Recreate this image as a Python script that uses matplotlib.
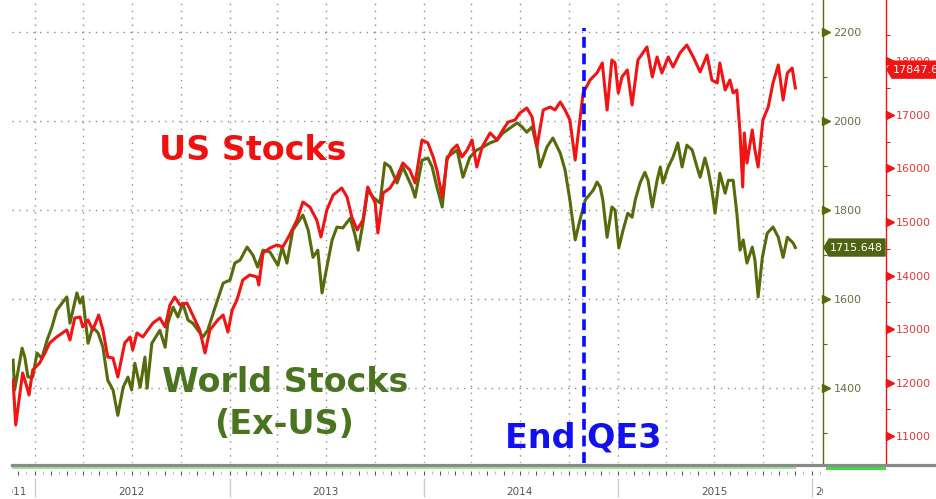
import matplotlib
matplotlib.use("Agg")
import matplotlib.pyplot as plt
import matplotlib.dates as mdates
from matplotlib.patches import Polygon, Rectangle
from matplotlib.lines import Line2D
from matplotlib.transforms import IdentityTransform
import pandas as pd

# US stocks (Dow, right axis)
us_dates = ['2011-11-21', '2011-11-26', '2011-12-09', '2011-12-17', '2011-12-21', '2011-12-28',
            '2012-01-10', '2012-01-20', '2012-01-29', '2012-02-11', '2012-03-01', '2012-03-07',
            '2012-03-16', '2012-03-26', '2012-03-31', '2012-04-10', '2012-04-19', '2012-04-30',
            '2012-05-08', '2012-05-17', '2012-05-27', '2012-06-05', '2012-06-18', '2012-06-28',
            '2012-07-03', '2012-07-11', '2012-07-22', '2012-08-10', '2012-08-23', '2012-09-02',
            '2012-09-11', '2012-09-20', '2012-09-30', '2012-10-13', '2012-10-22', '2012-11-06',
            '2012-11-16', '2012-11-25', '2012-12-10', '2012-12-20', '2012-12-29', '2013-01-06',
            '2013-01-15', '2013-01-26', '2013-02-08', '2013-02-22', '2013-02-25', '2013-03-05',
            '2013-03-18', '2013-03-31', '2013-04-11', '2013-04-21', '2013-05-08', '2013-05-19',
            '2013-06-01', '2013-06-07', '2013-06-14', '2013-06-22', '2013-07-03', '2013-07-15',
            '2013-07-31', '2013-08-10', '2013-08-19', '2013-08-29', '2013-09-09', '2013-09-18',
            '2013-10-02', '2013-10-07', '2013-10-17', '2013-10-30', '2013-11-12', '2013-11-23',
            '2013-12-06', '2013-12-16', '2013-12-29', '2014-01-09', '2014-01-19', '2014-01-26',
            '2014-02-05', '2014-02-14', '2014-02-23', '2014-03-05', '2014-03-14', '2014-03-24',
            '2014-04-02', '2014-04-11', '2014-04-21', '2014-05-06', '2014-05-19', '2014-05-30',
            '2014-06-09', '2014-06-22', '2014-07-01', '2014-07-14', '2014-07-24', '2014-08-02',
            '2014-08-14', '2014-08-27', '2014-09-05', '2014-09-15', '2014-09-24', '2014-10-03',
            '2014-10-13', '2014-10-18', '2014-10-28', '2014-11-10', '2014-11-23', '2014-12-03',
            '2014-12-12', '2014-12-21', '2014-12-27', '2015-01-02', '2015-01-09', '2015-01-19',
            '2015-01-28', '2015-02-08', '2015-02-25', '2015-03-07', '2015-03-16', '2015-03-25',
            '2015-04-06', '2015-04-15', '2015-04-28', '2015-05-11', '2015-05-23', '2015-06-05',
            '2015-06-18', '2015-06-27', '2015-07-07', '2015-07-12', '2015-07-22', '2015-07-31',
            '2015-08-06', '2015-08-13', '2015-08-19', '2015-08-24', '2015-08-27', '2015-09-01',
            '2015-09-11', '2015-09-16', '2015-09-22', '2015-10-01', '2015-10-11', '2015-10-20',
            '2015-10-30', '2015-11-08', '2015-11-16', '2015-11-25', '2015-12-01']
us_vals = [12047, 11206, 12178, 11916, 11767, 12234,
           12365, 12552, 12739, 12851, 12982, 12795,
           13206, 13225, 13038, 13169, 12982, 13262,
           12982, 12477, 12458, 12103, 12739, 12851,
           12608, 12926, 12851, 13112, 13206, 13038,
           13449, 13598, 13449, 13486, 13299, 12982,
           12552, 12982, 13169, 13262, 12944, 13355,
           13542, 13916, 14010, 13972, 13823, 14421,
           14514, 14570, 14533, 14701, 15038, 15374,
           15281, 15168, 15038, 14720, 15224, 15505,
           15636, 15467, 15094, 14851, 15038, 15654,
           15355, 14795, 15542, 15636, 15841, 16103,
           15972, 15729, 16533, 16477, 16215, 15972,
           15467, 16159, 16346, 16439, 16215, 16346,
           16533, 16028, 16402, 16664, 16533, 16720,
           16869, 16907, 17037, 17131, 16963, 16402,
           17093, 17150, 17093, 17243, 17093, 16907,
           16159, 16589, 17411, 17654, 17785, 17972,
           17093, 18028, 17972, 17411, 17710, 17841,
           17187, 18028, 18271, 17710, 18084, 17785,
           18084, 17897, 18159, 18308, 18084, 17804,
           18121, 17654, 17598, 17972, 17467, 17654,
           17411, 17467, 16664, 15654, 16664, 16103,
           16720, 16346, 16028, 16907, 17150, 17598,
           17935, 17280, 17785, 17878, 17505]

# World stocks ex-US (left axis)
world_dates = ['2011-11-21', '2011-11-24', '2011-12-08', '2011-12-13', '2011-12-19', '2011-12-28',
               '2012-01-05', '2012-01-14', '2012-01-24', '2012-02-02', '2012-02-11', '2012-02-21',
               '2012-03-01', '2012-03-07', '2012-03-20', '2012-03-26', '2012-03-31', '2012-04-10',
               '2012-04-19', '2012-04-29', '2012-05-08', '2012-05-17', '2012-05-27', '2012-06-05',
               '2012-06-15', '2012-06-24', '2012-07-01', '2012-07-07', '2012-07-17', '2012-07-26',
               '2012-07-30', '2012-08-08', '2012-08-23', '2012-09-02', '2012-09-07', '2012-09-17',
               '2012-09-26', '2012-10-05', '2012-10-15', '2012-10-24', '2012-11-12', '2012-11-21',
               '2012-12-05', '2012-12-20', '2013-01-02', '2013-01-11', '2013-01-21', '2013-02-03',
               '2013-02-14', '2013-02-23', '2013-03-05', '2013-03-18', '2013-04-02', '2013-04-10',
               '2013-04-19', '2013-04-30', '2013-05-19', '2013-05-29', '2013-06-07', '2013-06-16',
               '2013-06-24', '2013-07-03', '2013-07-13', '2013-07-22', '2013-08-02', '2013-08-16',
               '2013-08-25', '2013-08-31', '2013-09-09', '2013-09-18', '2013-09-28', '2013-10-11',
               '2013-10-20', '2013-10-30', '2013-11-12', '2013-11-23', '2013-12-10', '2013-12-16',
               '2013-12-29', '2014-01-09', '2014-01-17', '2014-01-26', '2014-02-05', '2014-02-14',
               '2014-03-05', '2014-03-16', '2014-03-29', '2014-04-11', '2014-04-23', '2014-05-06',
               '2014-05-19', '2014-05-30', '2014-06-12', '2014-06-26', '2014-07-05', '2014-07-14',
               '2014-07-24', '2014-08-02', '2014-08-08', '2014-08-21', '2014-09-01', '2014-09-15',
               '2014-09-24', '2014-10-03', '2014-10-13', '2014-10-22', '2014-11-01', '2014-11-16',
               '2014-11-23', '2014-11-29', '2014-12-04', '2014-12-12', '2014-12-21', '2014-12-27',
               '2015-01-03', '2015-01-11', '2015-01-20', '2015-01-28', '2015-02-03', '2015-02-12',
               '2015-02-21', '2015-02-27', '2015-03-07', '2015-03-16', '2015-03-22', '2015-03-27',
               '2015-04-06', '2015-04-15', '2015-04-24', '2015-05-02', '2015-05-11', '2015-05-21',
               '2015-05-30', '2015-06-05', '2015-06-14', '2015-06-20', '2015-06-27', '2015-07-03',
               '2015-07-12', '2015-07-22', '2015-07-28', '2015-08-06', '2015-08-13', '2015-08-19',
               '2015-08-25', '2015-09-01', '2015-09-11', '2015-09-16', '2015-09-22', '2015-09-30',
               '2015-10-09', '2015-10-20', '2015-10-30', '2015-11-08', '2015-11-16', '2015-11-27',
               '2015-12-01']
world_vals = [1463, 1396, 1490, 1470, 1425, 1425,
              1479, 1467, 1508, 1537, 1575, 1591,
              1605, 1546, 1614, 1591, 1605, 1501,
              1537, 1524, 1492, 1418, 1396, 1339,
              1402, 1425, 1396, 1456, 1402, 1470,
              1400, 1501, 1530, 1492, 1546, 1582,
              1560, 1591, 1553, 1546, 1515, 1530,
              1582, 1636, 1643, 1681, 1688, 1717,
              1699, 1672, 1710, 1706, 1676, 1717,
              1681, 1755, 1789, 1755, 1694, 1710,
              1614, 1672, 1733, 1762, 1760, 1782,
              1744, 1710, 1771, 1845, 1829, 1816,
              1906, 1897, 1861, 1897, 1852, 1829,
              1912, 1917, 1897, 1852, 1807, 1919,
              1935, 1874, 1919, 1935, 1942, 1951,
              1957, 1973, 1984, 1996, 1987, 1975,
              1987, 1942, 1897, 1942, 1962, 1928,
              1890, 1823, 1733, 1778, 1823, 1845,
              1863, 1852, 1823, 1739, 1807, 1800,
              1715, 1755, 1793, 1784, 1823, 1861,
              1885, 1867, 1807, 1867, 1897, 1861,
              1897, 1919, 1951, 1897, 1946, 1935,
              1897, 1874, 1917, 1890, 1845, 1793,
              1883, 1838, 1867, 1867, 1793, 1710,
              1733, 1681, 1717, 1688, 1605, 1694,
              1748, 1762, 1739, 1694, 1739, 1726,
              1716]

qe3_end = '2014-10-29'
us_last_label = '17847.6'
world_last_label = '1715.648'
world_ticks = [1400, 1600, 1800, 2000, 2200]
world_minor = [1300, 1500, 1700, 1900, 2100]
us_ticks = [11000, 12000, 13000, 14000, 15000, 16000, 17000, 18000]
us_minor = [11500, 12500, 13500, 14500, 15500, 16500, 17500, 18500]
year_labels = ['2011', '2012', '2013', '2014', '2015', '2016']

RED = '#f01414'
OLIVE = '#566b0c'
OLIVE_TXT = '#6d6d48'
RED_TXT = '#e23a3a'

W, H = 936, 499
fig = plt.figure(figsize=(W / 100, H / 100), dpi=100)
fig.patch.set_facecolor('white')

ax = fig.add_axes([12 / W, 1 - 463 / H, 811 / W, 463 / H])
ax2 = ax.twinx()

wd = pd.to_datetime(world_dates)
ud = pd.to_datetime(us_dates)
ax.plot(wd, world_vals, color=OLIVE, lw=2.2, solid_joinstyle='round')
ax2.plot(ud, us_vals, color=RED, lw=2.2, solid_joinstyle='round')

x0, x1 = pd.Timestamp('2011-11-19'), pd.Timestamp('2016-01-22')
ax.set_xlim(x0, x1)
ax.set_ylim(1232, 2272)
ax2.set_ylim(10496, 19149)

# spines
for s in ['top', 'left', 'bottom']:
    ax.spines[s].set_visible(False)
    ax2.spines[s].set_visible(False)
ax.spines['right'].set_color(OLIVE)
ax.spines['right'].set_linewidth(1.0)
red_pos = 874 / 811
ax2.spines['right'].set_position(('axes', red_pos))
ax2.spines['right'].set_color(RED)
ax2.spines['right'].set_linewidth(1.0)

# left-series ticks on the right side
ax.yaxis.tick_right()
ax.set_yticks(world_ticks)
ax.set_yticks(world_minor, minor=True)
ax.tick_params(axis='y', which='major', length=0, pad=7.5, labelsize=8, labelcolor=OLIVE_TXT)
ax.tick_params(axis='y', which='minor', length=3, width=0.8, color=OLIVE, direction='out')
ax.plot([1.0 + 3.5 / 811] * len(world_ticks), world_ticks, ls='', marker='>', ms=5.5,
        color=OLIVE, transform=ax.get_yaxis_transform(), clip_on=False)

ax2.set_yticks(us_ticks)
ax2.set_yticks(us_minor, minor=True)
ax2.tick_params(axis='y', which='major', length=0, pad=7, labelsize=8, labelcolor=RED_TXT)
ax2.tick_params(axis='y', which='minor', length=3, width=0.8, color=RED, direction='out')
ax2.plot([red_pos + 3.5 / 811] * len(us_ticks), us_ticks, ls='', marker='>', ms=5.5,
         color=RED, transform=ax2.get_yaxis_transform(), clip_on=False)

# grid
ax.xaxis.set_major_locator(mdates.MonthLocator(bymonth=[1, 4, 7, 10]))
ax.tick_params(axis='x', length=0, labelbottom=False)
ax.grid(True, which='major', color='#8c8c8c', lw=1.0, ls=(0, (1, 4)))
ax.set_axisbelow(True)

# QE3 end line
ax2.axvline(pd.Timestamp(qe3_end), ymin=0, ymax=(463 - 28) / 463, color='#0a0aff',
            lw=2.6, ls=(0, (3, 1.6)), zorder=5)

# annotations
fig.text(253 / W, 1 - 150 / H, 'US Stocks', color='#f01010', fontsize=24,
         fontweight='bold', ha='center', va='center')
fig.text(285 / W, 1 - 383 / H, 'World Stocks', color='#4a7420', fontsize=24,
         fontweight='bold', ha='center', va='center')
fig.text(284 / W, 1 - 425 / H, '(Ex-US)', color='#4a7420', fontsize=24,
         fontweight='bold', ha='center', va='center')
fig.text(583 / W, 1 - 438 / H, 'End QE3', color='#1010f0', fontsize=24,
         fontweight='bold', ha='center', va='center')

# bottom bars
fig.add_artist(Line2D([12 / W, 1.0], [1 - 464.5 / H] * 2, color='#8a8a8a', lw=2.3))
fig.add_artist(Rectangle((826 / W, 1 - 470 / H), 60 / W, 5 / H, color='#3fdc3f', lw=0))

# date band
axb = fig.add_axes([12 / W, 0, 811 / W, 36 / H])
axb.set_xlim(x0, x1)
axb.set_ylim(0, 1)
axb.axis('off')
axb.plot([wd[0], wd[-1]], [0.86, 0.86], color='#9be39b', lw=1.5)
months = pd.date_range('2011-12-01', '2016-01-01', freq='MS')
axb.vlines(months, 0.67, 0.78, color='#555555', lw=0.8)
axb.vlines(months + pd.Timedelta(days=15), 0.70, 0.78, color='#bbbbbb', lw=0.8)
year_starts = pd.to_datetime(['2012-01-01', '2013-01-01', '2014-01-01', '2015-01-01', '2016-01-01'])
axb.vlines(year_starts, 0.06, 0.58, color='#cccccc', lw=1)
axb.text(pd.Timestamp('2011-12-17'), 0.19, year_labels[0], ha='right', va='center',
         fontsize=7.5, color='#555555', clip_on=True)
for lab in year_labels[1:5]:
    axb.text(pd.Timestamp(lab + '-07-01'), 0.19, lab, ha='center', va='center',
             fontsize=7.5, color='#555555', clip_on=True)
axb.text(pd.Timestamp('2016-01-07'), 0.19, year_labels[5], ha='left', va='center',
         fontsize=7.5, color='#555555', clip_on=True)


def badge(axis, value, text, color, xpix, width):
    yc = axis.transData.transform((0, value))[1]
    pts = [(xpix + 1, yc), (xpix + 6, yc + 8.5), (xpix + width, yc + 8.5),
           (xpix + width, yc - 8.5), (xpix + 6, yc - 8.5)]
    fig.add_artist(Polygon(pts, closed=True, color=color, transform=IdentityTransform(), zorder=6))
    fig.add_artist(plt.Text(xpix + 7, yc, text, color='white', fontsize=8, va='center',
                            ha='left', transform=IdentityTransform(), zorder=7))


xo = ax.transAxes.transform((1, 0))[0]
xr = ax.transAxes.transform((red_pos, 0))[0]
badge(ax, world_vals[-1], world_last_label, '#4f6410', xo, 62)
badge(ax2, float(us_last_label), us_last_label, '#f01414', xr, 70)

fig.savefig('out.png', dpi=100, facecolor='white')
